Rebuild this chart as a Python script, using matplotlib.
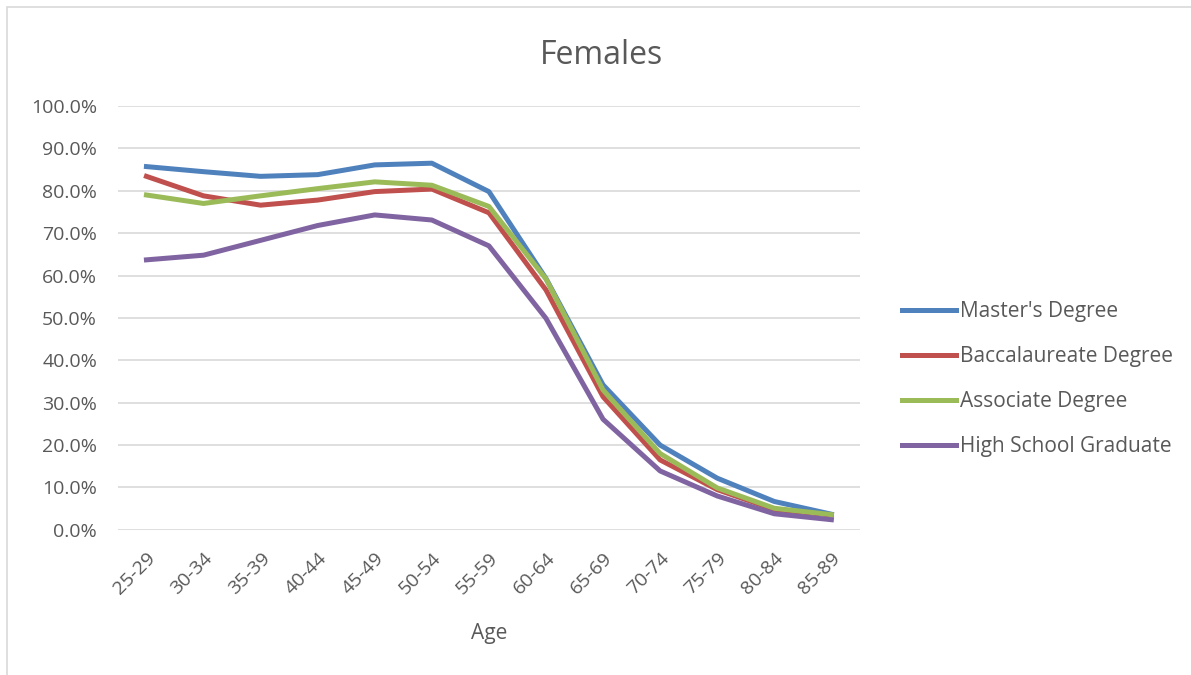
import matplotlib.pyplot as plt
from matplotlib.patches import Rectangle
from matplotlib.ticker import PercentFormatter

ages = ['25-29', '30-34', '35-39', '40-44', '45-49', '50-54', '55-59',
        '60-64', '65-69', '70-74', '75-79', '80-84', '85-89']
masters = [85.7, 84.5, 83.4, 83.8, 86.1, 86.5, 79.8, 59.3, 34.2, 20.0, 12.2, 6.7, 3.7]
bacc = [83.4, 78.8, 76.6, 77.8, 79.8, 80.4, 74.8, 56.6, 31.4, 16.5, 9.5, 4.8, 3.5]
assoc = [79.0, 77.0, 78.8, 80.5, 82.1, 81.3, 76.3, 59.2, 33.0, 18.0, 9.9, 5.1, 3.6]
hs = [63.7, 64.8, 68.3, 71.8, 74.3, 73.1, 67.0, 49.9, 26.1, 13.9, 8.0, 3.8, 2.4]

series = [("Master's Degree", masters, '#4F81BD'),
          ('Baccalaureate Degree', bacc, '#C0504D'),
          ('Associate Degree', assoc, '#9BBB59'),
          ('High School Graduate', hs, '#8064A2')]

plt.rcParams['font.family'] = ['Open Sans', 'DejaVu Sans']
grey = '#595959'

fig = plt.figure(figsize=(11.91, 6.75), dpi=100)
# light frame round the chart
fig.patches.append(Rectangle((0.006, -0.01), 1.0, 1.0,
                             transform=fig.transFigure, fill=False,
                             edgecolor='#d9d9d9', lw=1.2))
ax = fig.add_axes([0.099, 0.215, 0.623, 0.628])

x = range(len(ages))
for name, vals, col in series:
    ax.plot(x, vals, color=col, lw=3.6, label=name, solid_joinstyle='round')

ax.set_xlim(-0.5, len(ages) - 0.5)
ax.set_ylim(0, 100)
ax.set_yticks(range(0, 101, 10))
ax.yaxis.set_major_formatter(PercentFormatter(decimals=1))
ax.set_xticks(list(x))
ax.set_xticklabels(ages, rotation=45, ha='right', rotation_mode='anchor')
ax.grid(axis='y', color='#d9d9d9', lw=1.2)
ax.set_axisbelow(True)
for s in ax.spines.values():
    s.set_visible(False)
ax.tick_params(length=0, labelsize=14, colors=grey)
ax.tick_params(axis='y', pad=15)
ax.tick_params(axis='x', pad=14)

ax.set_xlabel('Age', fontsize=15, color=grey, labelpad=18)
fig.text(0.505, 0.918, 'Females', fontsize=23, color=grey,
         ha='center', va='center')

ax.legend(loc='center left', bbox_to_anchor=(1.031, 0.355), frameon=False,
          fontsize=15, labelcolor=grey, handlelength=2.6, labelspacing=1.15,
          handletextpad=0.2)

fig.savefig('out.png', dpi=100)
